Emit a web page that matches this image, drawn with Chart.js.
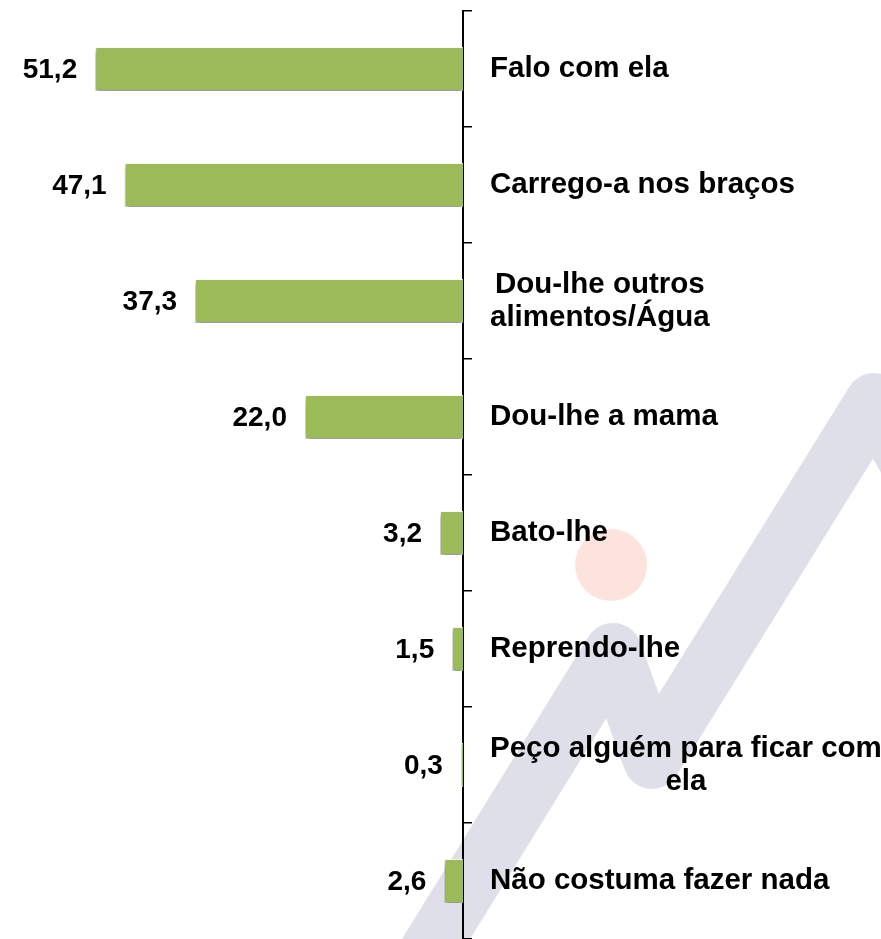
<!DOCTYPE html>
<html>
<head>
<meta charset="utf-8">
<script src="https://cdn.jsdelivr.net/npm/chart.js@4.4.1/dist/chart.umd.min.js"></script>
<style>
  html, body { margin: 0; padding: 0; background: #fff; }
  #wrap { width: 881px; height: 939px; position: relative; }
</style>
</head>
<body>
<div id="wrap"><canvas id="reacaoChart"></canvas></div>
<script>
// categories (multi-line labels as arrays) and percentages
const categorias = [
    ['Falo com ela'],
    ['Carrego-a nos braços'],
    ['Dou-lhe outros', 'alimentos/Água'],
    ['Dou-lhe a mama'],
    ['Bato-lhe'],
    ['Reprendo-lhe'],
    ['Peço alguém para ficar com', 'ela'],
    ['Não costuma fazer nada']
];
const percentagens = [51.2, 47.1, 37.3, 22.0, 3.2, 1.5, 0.3, 2.6];

const fonteCategoria = 'bold 29.5px "Liberation Sans", Arial, sans-serif';
const fonteValor = 'bold 28px "Liberation Sans", Arial, sans-serif';

// faded logo behind the chart
const marcaDagua = {
    id: 'marcaDagua',
    beforeDraw: function (chart) {
        const ctx = chart.ctx;
        ctx.save();
        ctx.fillStyle = '#ffffff';
        ctx.fillRect(0, 0, chart.width, chart.height);
        ctx.fillStyle = '#FCE4DC';
        ctx.beginPath();
        ctx.arc(611, 565, 36, 0, Math.PI * 2);
        ctx.fill();
        ctx.strokeStyle = '#DFDFEA';
        ctx.lineWidth = 58;
        ctx.lineJoin = 'round';
        ctx.lineCap = 'round';
        ctx.beginPath();
        ctx.moveTo(420, 965);
        ctx.lineTo(613, 652);
        ctx.lineTo(652, 760);
        ctx.lineTo(874, 402);
        ctx.lineTo(930, 500);
        ctx.stroke();
        ctx.restore();
    }
};

// drop shadow under the bars
const sombraBarras = {
    id: 'sombraBarras',
    beforeDatasetDraw: function (chart) {
        const ctx = chart.ctx;
        ctx.save();
        ctx.shadowColor = 'rgba(0, 0, 0, 0.5)';
        ctx.shadowBlur = 5;
        ctx.shadowOffsetX = 0;
        ctx.shadowOffsetY = 3;
    },
    afterDatasetDraw: function (chart) {
        chart.ctx.restore();
    }
};

// category names to the right of the axis, values to the left of the bars
const rotulos = {
    id: 'rotulos',
    afterDraw: function (chart) {
        const ctx = chart.ctx;
        const yScale = chart.scales.y;
        const meta = chart.getDatasetMeta(0);
        const alturaLinha = 33;
        ctx.save();
        ctx.fillStyle = '#000000';
        ctx.textBaseline = 'middle';

        ctx.font = fonteCategoria;
        ctx.textAlign = 'center';
        categorias.forEach(function (linhas, i) {
            const yc = yScale.getPixelForValue(i);
            let larg = 0;
            linhas.forEach(function (l) { larg = Math.max(larg, ctx.measureText(l).width); });
            const x0 = yScale.left + 27;
            linhas.forEach(function (l, k) {
                const y = yc - (linhas.length - 1) * alturaLinha / 2 + k * alturaLinha;
                ctx.fillText(l, x0 + larg / 2, y);
            });
        });

        ctx.font = fonteValor;
        ctx.textAlign = 'right';
        meta.data.forEach(function (bar, i) {
            const txt = percentagens[i].toFixed(1).replace('.', ',');
            ctx.fillText(txt, bar.x - 18, bar.y + 1);
        });
        ctx.restore();
    }
};

var ctx = document.getElementById('reacaoChart');
var reacaoChart = new Chart(ctx, {
    type: 'bar',
    data: {
        labels: categorias,
        datasets: [{
            data: percentagens,
            backgroundColor: '#9BBB59',
            borderColor: 'rgba(255, 255, 255, 0.85)',
            borderWidth: 1,
            borderSkipped: 'start',
            categoryPercentage: 1,
            barPercentage: 0.38
        }]
    },
    options: {
        indexAxis: 'y',
        responsive: true,
        maintainAspectRatio: false,
        animation: false,
        layout: {
            padding: { top: 11, left: 32, right: 0, bottom: 0 }
        },
        scales: {
            x: {
                display: false,
                reverse: true,
                min: 0,
                max: 60
            },
            y: {
                position: 'right',
                z: 1,
                grid: {
                    drawOnChartArea: false,
                    drawTicks: true,
                    tickLength: 9,
                    color: '#000000',
                    lineWidth: 1.5,
                    offset: true
                },
                border: {
                    display: true,
                    color: '#000000',
                    width: 2
                },
                ticks: { display: false },
                afterFit: function (scale) {
                    scale.width = 418;
                }
            }
        },
        plugins: {
            legend: { display: false },
            tooltip: { enabled: false }
        }
    },
    plugins: [marcaDagua, sombraBarras, rotulos]
});
</script>
</body>
</html>
